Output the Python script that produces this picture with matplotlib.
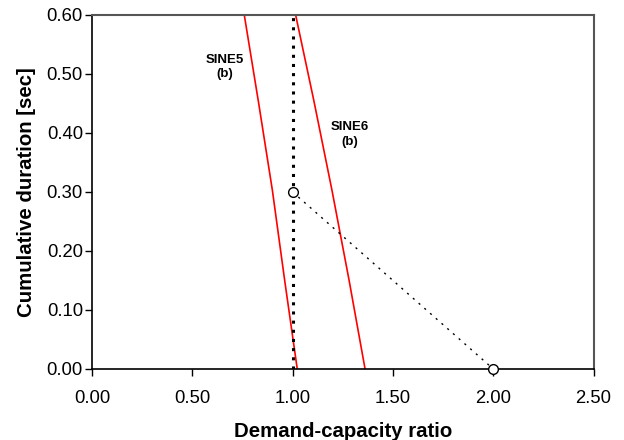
import matplotlib
matplotlib.use("Agg")
import matplotlib.pyplot as plt

plt.rcParams['font.family'] = ['Liberation Sans', 'DejaVu Sans']

# Capacity curves (demand-capacity ratio vs cumulative duration)
sine5_ratio = [0.759, 0.830, 0.899, 0.960, 1.023]
sine5_dur = [0.600, 0.452, 0.303, 0.151, 0.000]
sine6_ratio = [1.015, 1.105, 1.196, 1.281, 1.361]
sine6_dur = [0.600, 0.456, 0.303, 0.151, 0.000]

# Limit line at ratio 1.0 and demand points
limit_ratio = [1.0, 1.0]
limit_dur = [0.0, 0.6]
demand_ratio = [1.0, 2.0]
demand_dur = [0.30, 0.00]

xticks = [0.0, 0.5, 1.0, 1.5, 2.0, 2.5]
yticks = [0.0, 0.1, 0.2, 0.3, 0.4, 0.5, 0.6]

fig = plt.figure(figsize=(6.24, 4.40), dpi=100)
ax = fig.add_axes([0.1474, 0.1614, 0.9513 - 0.1474, 0.966 - 0.1614])

ax.plot(sine5_ratio, sine5_dur, color='#ff0000', lw=1.2)
ax.plot(sine6_ratio, sine6_dur, color='#ff0000', lw=1.2)
ax.plot(limit_ratio, limit_dur, color='black', lw=2.2, linestyle=(0, (1, 2)))
ax.plot(demand_ratio, demand_dur, color='black', lw=1.0, linestyle=(0, (1.5, 4)),
        marker='o', markersize=7, markerfacecolor='white', markeredgecolor='black',
        markeredgewidth=1.0, clip_on=False, zorder=5)

ax.text(0.66, 0.512, 'SINE5\n(b)', ha='center', va='center', fontsize=9.5,
        fontweight='bold', linespacing=1.3)
ax.text(1.285, 0.397, 'SINE6\n(b)', ha='center', va='center', fontsize=9.5,
        fontweight='bold', linespacing=1.3)

ax.set_xlim(0, 2.5)
ax.set_ylim(0, 0.6)
ax.set_xticks(xticks)
ax.set_yticks(yticks)
ax.set_xticklabels([f'{v:.2f}' for v in xticks])
ax.set_yticklabels([f'{v:.2f}' for v in yticks])
ax.tick_params(direction='out', length=5, width=1, labelsize=13.3)
ax.tick_params(axis='x', pad=10)
ax.tick_params(axis='y', pad=1.5)

for side in ('left', 'bottom'):
    ax.spines[side].set_color('black')
    ax.spines[side].set_linewidth(1.2)
for side in ('top', 'right'):
    ax.spines[side].set_color('#555555')
    ax.spines[side].set_linewidth(1.5)

ax.set_xlabel('Demand-capacity ratio', fontsize=14.7, fontweight='bold', labelpad=11)
ax.set_ylabel('Cumulative duration [sec]', fontsize=14.7, fontweight='bold', labelpad=8)

fig.savefig('out.png', dpi=100)
